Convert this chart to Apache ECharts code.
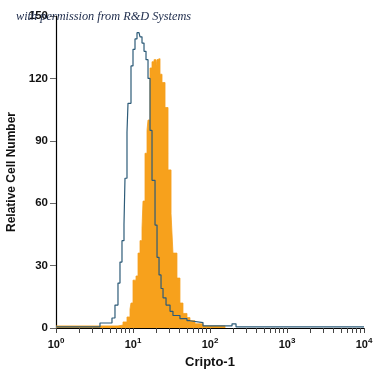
<!DOCTYPE html>
<html>
<head>
<meta charset="utf-8">
<script src="https://cdn.jsdelivr.net/npm/echarts@6/dist/echarts.min.js"></script>
<style>html,body{margin:0;padding:0;background:#fff}#c{width:375px;height:375px}</style>
</head>
<body>
<div id="c"></div>
<script>
// x positions are log10(fluorescence); counts are relative cell numbers (step histogram)
const isotypeLog   = [0, 0.571, 0.727, 0.766, 0.805, 0.831, 0.857, 0.883, 0.896, 0.922, 0.935, 0.974, 1.000, 1.026, 1.052, 1.078, 1.091, 1.117, 1.143, 1.169, 1.195, 1.221, 1.247, 1.286, 1.312, 1.338, 1.364, 1.390, 1.429, 1.481, 1.519, 1.610, 1.701, 1.740, 1.909, 2.286, 2.338, 4.0];
const isotypeCount = [0.5, 2.4, 4.8, 11, 21.6, 31.7, 42, 50, 72, 94, 108, 126, 134, 139, 142, 142.5, 140, 137, 133, 129, 120, 95, 71, 49.5, 34, 25.5, 19, 14.5, 11, 8, 6, 4.5, 3.5, 2.6, 1, 2, 0.5, 0.5];
const criptoLog    = [0, 0.805, 0.870, 0.922, 0.961, 0.974, 1.000, 1.039, 1.065, 1.091, 1.117, 1.130, 1.156, 1.182, 1.195, 1.221, 1.247, 1.273, 1.299, 1.312, 1.325, 1.351, 1.377, 1.416, 1.455, 1.494, 1.519, 1.571, 1.610, 1.649, 1.701, 1.740, 1.805, 1.909, 2.195];
const criptoCount  = [1, 1.4, 2.9, 5.3, 9, 12, 23, 25, 36, 42, 48, 61, 84, 95, 100, 125, 128, 129, 126, 129, 129.5, 122, 118, 106, 76, 55, 36, 24, 12, 7, 5, 3.5, 2, 1, 0];
const xTickExponents = ['0', '1', '2', '3', '4'];
const yTicks = [0, 30, 60, 90, 120, 150];

const minorTicks = [];
for (let d = 0; d < 4; d++) {
  minorTicks.push(d);
  for (let k = 2; k <= 9; k++) minorTicks.push(d + Math.log10(k));
}
minorTicks.push(4);

const pairs = (xs, ys) => xs.map((x, i) => [x, ys[i]]);
const sans = '"Liberation Sans Narrow", "Arial Narrow", "Liberation Sans", sans-serif';

const chart = echarts.init(document.getElementById('c'), null, {renderer: 'canvas'});
chart.setOption({
  animation: false,
  title: {
    text: 'with permission from R&D Systems',
    left: 11, top: 6,
    textStyle: {fontFamily: '"Liberation Serif", "DejaVu Serif", serif', fontStyle: 'italic', fontWeight: 'normal', fontSize: 12.3, color: '#1c2a4a'}
  },
  grid: {left: 56, right: 11, top: 16, bottom: 47, containLabel: false, outerBoundsMode: 'none'},
  xAxis: {
    type: 'value', min: 0, max: 4, interval: 1,
    name: 'Cripto-1', nameLocation: 'middle', nameGap: 28,
    nameTextStyle: {fontFamily: sans, fontWeight: 'bold', fontSize: 13, color: '#111'},
    axisLine: {show: true, onZero: false, lineStyle: {color: '#000', width: 1.2}},
    axisTick: {show: true, customValues: minorTicks, length: 5, lineStyle: {color: '#444', width: 1}},
    axisLabel: {
      customValues: xTickExponents.map(Number),
      margin: 9,
      formatter: v => '{b|10}{s|' + xTickExponents[Math.round(v)] + '}',
      rich: {
        b: {fontFamily: sans, fontWeight: 'bold', fontSize: 11, color: '#111'},
        s: {fontFamily: sans, fontWeight: 'bold', fontSize: 8, color: '#111', verticalAlign: 'bottom', padding: [0, 0, 7, 0]}
      }
    },
    splitLine: {show: false}
  },
  yAxis: {
    type: 'value', min: 0, max: 150, interval: 30,
    name: 'Relative Cell Number', nameLocation: 'middle', nameGap: 36, nameRotate: 90,
    nameTextStyle: {fontFamily: sans, fontWeight: 'bold', fontSize: 12, color: '#111'},
    axisLine: {show: true, lineStyle: {color: '#000', width: 1.2}},
    axisTick: {show: true, length: 6, lineStyle: {color: '#666'}},
    axisLabel: {fontFamily: sans, fontWeight: 'bold', fontSize: 11.5, color: '#111', margin: 8,
      formatter: v => yTicks.includes(v) ? String(v) : ''},
    splitLine: {show: false}
  },
  series: [
    {
      name: 'Cripto-1', type: 'line', step: 'end', symbol: 'none',
      data: pairs(criptoLog, criptoCount),
      lineStyle: {width: 0.8, color: '#f5a01e'},
      areaStyle: {color: '#f7a11c', opacity: 1},
      z: 2
    },
    {
      name: 'Isotype control', type: 'line', step: 'end', symbol: 'none',
      data: pairs(isotypeLog, isotypeCount),
      lineStyle: {width: 1.2, color: '#2d5b78'},
      z: 3
    }
  ]
});
</script>
</body>
</html>
